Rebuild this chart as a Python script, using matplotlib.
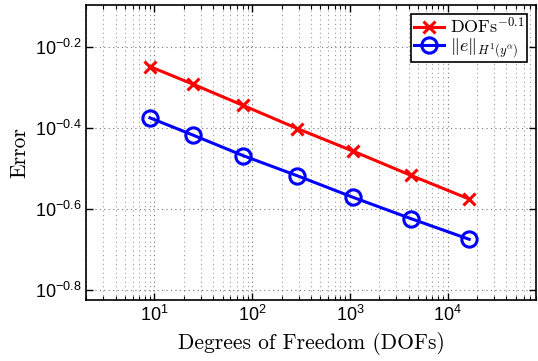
import numpy as np
import matplotlib
matplotlib.use('Agg')
from matplotlib import pyplot as plt
from matplotlib.ticker import FuncFormatter, LogLocator, FixedLocator

# ---- data ----
dofs = [9, 25, 81, 289, 1089, 4225, 16641]
rate_ref = [0.5642, 0.5102, 0.4525, 0.3970, 0.3488, 0.3042, 0.2660]
err_h1 = [0.4218, 0.3822, 0.3403, 0.3037, 0.2684, 0.2380, 0.2117]
yticks = [10**-0.8, 10**-0.6, 10**-0.4, 10**-0.2]
ytick_exp = ['-0.8', '-0.6', '-0.4', '-0.2']

plt.rcParams['mathtext.fontset'] = 'custom'
plt.rcParams['mathtext.rm'] = 'Liberation Sans'
plt.rcParams['mathtext.it'] = 'Liberation Sans:italic'
plt.rcParams['mathtext.bf'] = 'Liberation Sans:bold'
plt.rcParams['font.family'] = 'Liberation Sans'
plt.rcParams['axes.unicode_minus'] = False

fig = plt.figure(figsize=(5.38, 3.61), dpi=100)
ax = fig.add_axes([0.160, 0.169, 0.836, 0.817])

ax.loglog(dofs, rate_ref, '-x', color='red', lw=2.2, ms=9, mew=2.2,
          label=r'$\mathrm{DOFs}^{-0.1}$')
ax.loglog(dofs, err_h1, '-o', color='blue', lw=2.2, ms=11, mew=2.2,
          mfc='none', label=r'$\|e\|_{H^1(y^\alpha)}$')

ax.set_xlim(2, 8e4)
ax.set_ylim(0.15, 0.8)

ax.xaxis.set_major_locator(FixedLocator([10, 100, 1000, 10000]))
ax.xaxis.set_major_formatter(FuncFormatter(lambda v, p: r'$10^{%d}$' % round(np.log10(v))))
ax.xaxis.set_minor_locator(LogLocator(base=10, subs=np.arange(2, 10), numticks=20))
ax.yaxis.set_major_locator(FixedLocator(yticks))
ax.yaxis.set_major_formatter(FuncFormatter(lambda v, p: r'$10^{%s}$' % ytick_exp[p] if p is not None and p < 4 else ''))
ax.yaxis.set_minor_locator(FixedLocator([]))

ax.tick_params(which='both', direction='in', top=True, right=True, labelsize=13)
ax.tick_params(which='major', length=5, width=1)
ax.tick_params(which='minor', length=3, width=0.8)
for s in ax.spines.values():
    s.set_linewidth(1.2)

ax.grid(True, which='major', ls=(0, (1, 3)), color='0.45', lw=0.8)
ax.grid(True, which='minor', axis='x', ls=(0, (1, 3)), color='0.6', lw=0.8)

ax.set_xlabel('Degrees of Freedom (DOFs)', family='cmr10', fontsize=15.5, labelpad=5)
ax.set_ylabel('Error', family='cmr10', fontsize=15.5, labelpad=4)

leg = ax.legend(loc='upper right', fontsize=13, fancybox=False, framealpha=1,
                edgecolor='black', borderpad=0.15, labelspacing=-0.05,
                handlelength=1.7, handletextpad=0.3, borderaxespad=0.5)
leg.get_frame().set_linewidth(1.2)
for t in leg.get_texts():
    t.set_math_fontfamily('cm')

fig.savefig('out.png', dpi=100)
